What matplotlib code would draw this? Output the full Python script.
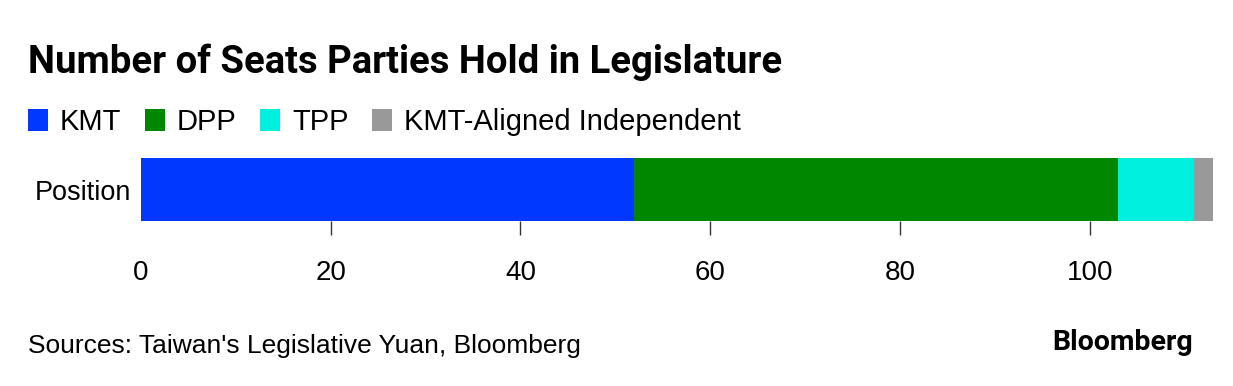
import matplotlib.pyplot as plt

plt.rcParams['font.family'] = ['Liberation Sans', 'DejaVu Sans']

parties = ["KMT", "DPP", "TPP", "KMT-Aligned Independent"]
seats = [52, 51, 8, 2]
colors = ["#0038ff", "#008700", "#00f0e0", "#999999"]
category = "Position"
ticks = [0, 20, 40, 60, 80, 100]

W, H = 1233, 386
fig = plt.figure(figsize=(W / 100, H / 100), dpi=100)
ax = fig.add_axes([141 / W, 1 - 221 / H, (1213 - 141) / W, (221 - 158) / H])

left = 0
handles = []
for name, val, c in zip(parties, seats, colors):
    b = ax.barh([category], [val], left=left, height=1.0, color=c, label=name)
    handles.append(b)
    left += val

ax.set_xlim(0, sum(seats))
ax.set_ylim(-0.5, 0.5)
for s in ax.spines.values():
    s.set_visible(False)

ax.set_xticks(ticks)
ax.set_xticklabels([str(t) for t in ticks])
ax.tick_params(axis='x', length=10, width=1, color='#333333', pad=18, labelsize=20)
ax.tick_params(axis='y', length=0, pad=7, labelsize=19.5)
# no tick mark at zero
ax.xaxis.get_major_ticks()[0].tick1line.set_visible(False)

fig.text(28 / W, 1 - 62 / H, "Number of Seats Parties Hold in Legislature",
         fontsize=27.5, fontweight='bold', va='center', ha='left', family=['Roboto', 'DejaVu Sans'])

fig.legend(handles=handles, labels=parties, loc='center left',
           bbox_to_anchor=(28 / W, 1 - 122 / H), ncol=4, frameon=False,
           fontsize=21, handlelength=0.7, handleheight=0.75,
           handletextpad=0.4, columnspacing=0.8, borderaxespad=0, borderpad=0)

fig.text(28 / W, 1 - 346 / H, "Sources: Taiwan's Legislative Yuan, Bloomberg",
         fontsize=19, va='center', ha='left')
fig.text(1193 / W, 1 - 343 / H, "Bloomberg", fontsize=20.5, fontweight='bold',
         va='center', ha='right', family=['Roboto', 'DejaVu Sans'])

fig.savefig("out.png", dpi=100)
